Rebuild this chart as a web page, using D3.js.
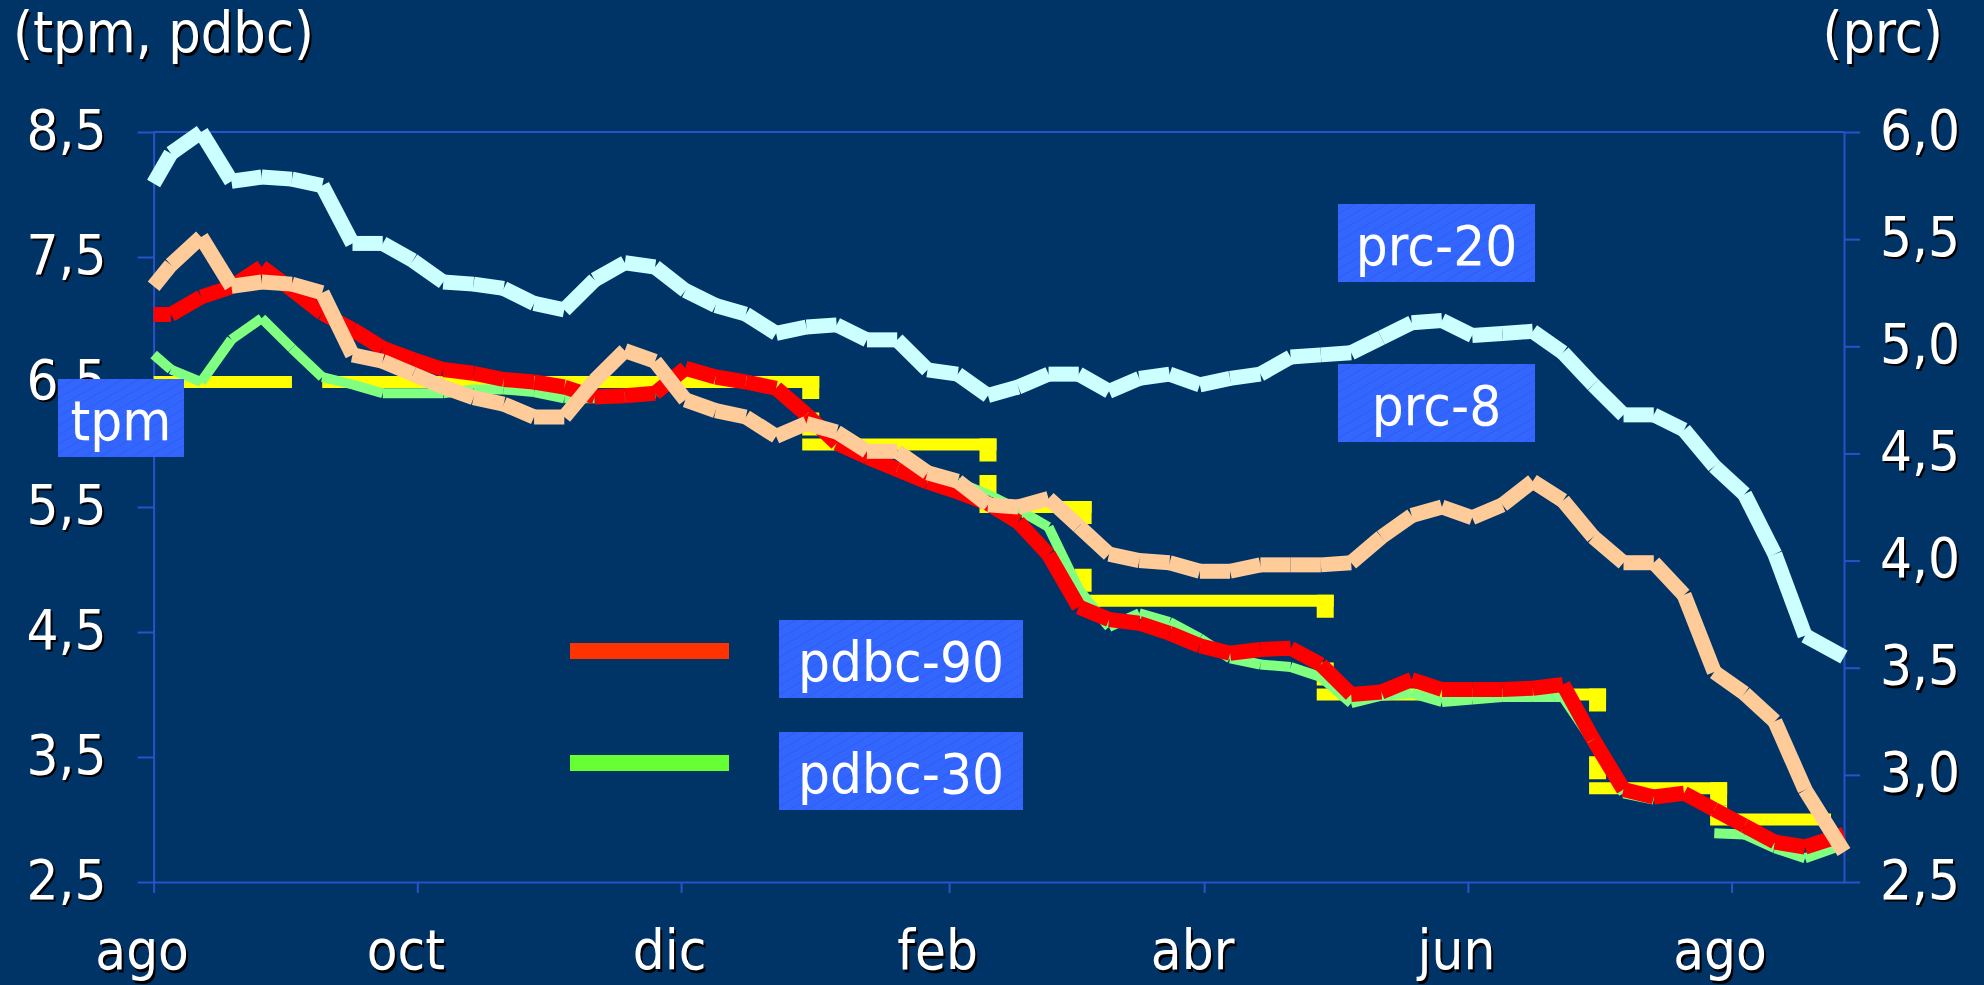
<!DOCTYPE html>
<html>
<head>
<meta charset="utf-8">
<title>tpm, pdbc y prc</title>
<script src="https://cdn.jsdelivr.net/npm/d3@7"></script>
<style>
  body { margin: 0; background: #003366; }
  svg text { font-family: "DejaVu Sans Condensed", "DejaVu Sans", sans-serif; font-stretch: condensed; }
</style>
</head>
<body>
<div id="chart"></div>
<script>
// weekly observation dates
const dates = [
  '2001-08-01','2001-08-05','2001-08-12','2001-08-19','2001-08-26','2001-09-02','2001-09-09',
  '2001-09-16','2001-09-23','2001-09-30','2001-10-07','2001-10-14','2001-10-21','2001-10-28',
  '2001-11-04','2001-11-11','2001-11-18','2001-11-25','2001-12-02','2001-12-09','2001-12-16',
  '2001-12-23','2001-12-30','2002-01-06','2002-01-13','2002-01-20','2002-01-27','2002-02-03',
  '2002-02-10','2002-02-17','2002-02-24','2002-03-03','2002-03-10','2002-03-17','2002-03-24',
  '2002-03-31','2002-04-07','2002-04-14','2002-04-21','2002-04-28','2002-05-05','2002-05-12',
  '2002-05-19','2002-05-26','2002-06-02','2002-06-09','2002-06-16','2002-06-23','2002-06-30',
  '2002-07-07','2002-07-14','2002-07-21','2002-07-28','2002-08-04','2002-08-11','2002-08-18',
  '2002-08-27'
];

// right axis (prc)
const prc20 = [5.76, 5.90, 6.00, 5.77, 5.79, 5.78, 5.75, 5.48, 5.48, 5.40, 5.30, 5.29, 5.27, 5.20,
  5.17, 5.31, 5.39, 5.37, 5.26, 5.19, 5.15, 5.06, 5.09, 5.10, 5.03, 5.03, 4.89, 4.87, 4.77, 4.81,
  4.87, 4.87, 4.79, 4.85, 4.87, 4.82, 4.85, 4.87, 4.95, 4.96, 4.97, 5.04, 5.11, 5.12, 5.05, 5.06,
  5.07, 4.97, 4.82, 4.68, 4.68, 4.61, 4.44, 4.31, 4.03, 3.65, 3.55];
const prc8 = [5.28, 5.38, 5.51, 5.28, 5.30, 5.29, 5.25, 4.96, 4.93, 4.87, 4.81, 4.76, 4.73, 4.67,
  4.67, 4.84, 4.98, 4.93, 4.75, 4.70, 4.67, 4.58, 4.64, 4.60, 4.51, 4.51, 4.41, 4.37, 4.26, 4.25,
  4.29, 4.16, 4.03, 4.00, 3.99, 3.95, 3.95, 3.98, 3.98, 3.98, 3.99, 4.11, 4.21, 4.25, 4.20, 4.26,
  4.37, 4.28, 4.11, 3.99, 3.99, 3.84, 3.48, 3.38, 3.25, 2.93, 2.64];

// left axis (tpm, pdbc)
const pdbc90 = [7.04, 7.04, 7.18, 7.26, 7.42, 7.24, 7.05, 6.92, 6.77, 6.68, 6.60, 6.57, 6.52, 6.50,
  6.46, 6.38, 6.39, 6.41, 6.61, 6.54, 6.50, 6.45, 6.24, 6.01, 5.90, 5.80, 5.70, 5.62, 5.53, 5.38,
  5.12, 4.70, 4.60, 4.57, 4.49, 4.39, 4.33, 4.36, 4.37, 4.24, 4.00, 4.02, 4.12, 4.04, 4.04, 4.04,
  4.05, 4.08, 3.64, 3.24, 3.18, 3.21, 3.08, 2.95, 2.82, 2.78, 2.88];
const pdbc30 = [6.72, 6.60, 6.50, 6.84, 7.01, 6.77, 6.54, 6.48, 6.41, 6.41, 6.41, 6.44, 6.44, 6.42,
  6.37, 6.37, 6.38, 6.41, 6.60, 6.54, 6.50, 6.46, 6.22, 6.03, 5.91, 5.82, 5.73, 5.70, 5.60, 5.48,
  5.34, 4.84, 4.54, 4.65, 4.58, 4.45, 4.29, 4.24, 4.22, 4.14, 3.93, 3.99, 4.01, 3.94, 3.96, 3.98,
  3.98, 3.98, 3.62, 3.21, 3.16, null, 2.89, 2.88, 2.77, 2.69, 2.80];

// tpm levels: each one holds from its start to its end date
const tpmStart = ['2001-08-01', '2001-09-09', '2001-12-31', '2002-02-10', '2002-03-04', '2002-04-29', '2002-07-01', '2002-07-29'];
const tpmEnd = ['2001-09-02', '2001-12-31', '2002-02-10', '2002-03-04', '2002-04-29', '2002-07-01', '2002-07-29', '2002-08-24'];
const tpmLevel = [6.5, 6.5, 6.0, 5.5, 4.75, 4.0, 3.25, 3.0];

const xTickDates = ['2001-08-01', '2001-10-01', '2001-12-01', '2002-02-01', '2002-04-01', '2002-06-01', '2002-08-01'];
const xTickLabels = ['ago', 'oct', 'dic', 'feb', 'abr', 'jun', 'ago'];
const leftTicks = [2.5, 3.5, 4.5, 5.5, 6.5, 7.5, 8.5];
const rightTicks = [2.5, 3.0, 3.5, 4.0, 4.5, 5.0, 5.5, 6.0];

const width = 1984;
const height = 985;
const plot = { left: 153.6, right: 1844, top: 132, bottom: 882 };
const axisColor = '#2a52c8';
const fontSize = 56;

const parse = d3.timeParse('%Y-%m-%d');
const fmt = d3.formatLocale({ decimal: ',', thousands: '.', grouping: [3], currency: ['', ''] }).format('.1f');

const x = d3.scaleTime()
  .domain([parse(dates[0]), parse(dates[dates.length - 1])])
  .range([plot.left, plot.right]);
const yL = d3.scaleLinear().domain([2.5, 8.5]).range([plot.bottom, plot.top]);
const yR = d3.scaleLinear().domain([2.5, 6.0]).range([plot.bottom, plot.top]);

const svg = d3.select('#chart')
  .append('svg')
  .attr('width', width)
  .attr('height', height)
  .style('display', 'block');

svg.append('rect')
  .attr('width', width)
  .attr('height', height)
  .attr('fill', '#003366');

// hatch used in the label boxes
const pattern = svg.append('defs').append('pattern')
  .attr('id', 'hatch')
  .attr('patternUnits', 'userSpaceOnUse')
  .attr('width', 8)
  .attr('height', 8)
  .attr('patternTransform', 'rotate(-30)');
pattern.append('rect').attr('width', 8).attr('height', 8).attr('fill', '#3366ff');
pattern.append('line').attr('x1', 0).attr('y1', 0).attr('x2', 8).attr('y2', 0)
  .attr('stroke', '#2f5ae6').attr('stroke-width', 1.5);

// white text with dark drop shadow
function shadowText(sel) {
  sel.each(function () {
    const clone = this.cloneNode(true);
    this.parentNode.insertBefore(clone, this);
    d3.select(clone).attr('fill', '#000').attr('transform', 'translate(2,2.5)');
  });
}

function styleAxis(g) {
  g.select('.domain').attr('stroke', axisColor).attr('stroke-width', 2);
  g.selectAll('.tick line').attr('stroke', axisColor).attr('stroke-width', 2);
  g.selectAll('.tick text')
    .attr('fill', '#fff')
    .style('font-size', fontSize + 'px');
  g.attr('font-family', null).attr('font-size', null);
}

// top border of the plot area
svg.append('line')
  .attr('x1', plot.left).attr('x2', plot.right)
  .attr('y1', plot.top).attr('y2', plot.top)
  .attr('stroke', axisColor).attr('stroke-width', 2);

const xAxis = svg.append('g')
  .attr('transform', `translate(0,${plot.bottom})`)
  .call(d3.axisBottom(x)
    .tickValues(xTickDates.map(parse))
    .tickFormat((d, i) => xTickLabels[i])
    .tickSize(11)
    .tickSizeOuter(0));
styleAxis(xAxis);
xAxis.selectAll('.tick text').attr('y', 87).attr('dy', 0).attr('dx', -12);

const leftAxis = svg.append('g')
  .attr('transform', `translate(${plot.left},0)`)
  .call(d3.axisLeft(yL).tickValues(leftTicks).tickFormat(fmt).tickSize(16).tickSizeOuter(0).tickPadding(31));
styleAxis(leftAxis);
leftAxis.selectAll('.tick text').attr('dy', 16);

const rightAxis = svg.append('g')
  .attr('transform', `translate(${plot.right},0)`)
  .call(d3.axisRight(yR).tickValues(rightTicks).tickFormat(fmt).tickSize(16).tickSizeOuter(0).tickPadding(20));
styleAxis(rightAxis);
rightAxis.selectAll('.tick text').attr('dy', 16);

shadowText(svg.selectAll('.tick text'));

// series
const lines = svg.append('g');

// tpm: flat bars with short broken drops between levels
const tpm = tpmLevel.map((v, i) => ({ start: parse(tpmStart[i]), end: parse(tpmEnd[i]), v }));
const bar = 12, drop = 17, dash = 23;
const tpmG = lines.append('g').attr('fill', '#ffff00');
tpm.forEach((s, i) => {
  const prev = tpm[i - 1], next = tpm[i + 1];
  const joinsPrev = prev && +prev.end === +s.start;
  const joinsNext = next && +next.start === +s.end;
  const x0 = x(s.start) - (joinsPrev ? drop / 2 : 0);
  const x1 = x(s.end) + (joinsNext ? drop / 2 : 0);
  tpmG.append('rect')
    .attr('x', x0).attr('y', yL(s.v) - bar / 2)
    .attr('width', x1 - x0).attr('height', bar);
  if (joinsNext) {
    const cx = x(s.end);
    const top = yL(s.v) - bar / 2;
    const lowTop = yL(next.v) - bar / 2;
    tpmG.append('rect')
      .attr('x', cx - drop / 2).attr('y', top)
      .attr('width', drop).attr('height', Math.min(dash, lowTop - top));
    const upTop = Math.max(top + dash, lowTop - 3 - dash);
    if (lowTop - 3 > upTop) {
      tpmG.append('rect')
        .attr('x', cx - drop / 2).attr('y', upTop)
        .attr('width', drop).attr('height', lowTop - 3 - upTop);
    }
  }
});

// each weekly segment drawn on its own, as the original does
function drawSeries(values, yScale, color, strokeWidth) {
  const pts = dates.map((d, i) => ({ date: parse(d), v: values[i] }));
  const segs = d3.pairs(pts).filter(([a, b]) => a.v != null && b.v != null);
  const line = d3.line().x(p => x(p.date)).y(p => yScale(p.v));
  lines.append('g')
    .selectAll('path')
    .data(segs)
    .join('path')
    .attr('d', line)
    .attr('fill', 'none')
    .attr('stroke', color)
    .attr('stroke-width', strokeWidth)
    .attr('stroke-linecap', 'butt');
}

drawSeries(pdbc30, yL, '#80ff80', 10);
drawSeries(pdbc90, yL, '#ff0000', 15);
drawSeries(prc8, yR, '#ffcc99', 15);
drawSeries(prc20, yR, '#ccffff', 15);

// axis titles
const titles = svg.append('g')
  .style('font-size', '57px')
  .attr('fill', '#fff');
titles.append('text').attr('x', 13).attr('y', 52).text('(tpm, pdbc)');
titles.append('text').attr('x', 1943).attr('y', 52).attr('text-anchor', 'end').text('(prc)');
shadowText(titles.selectAll('text'));

// legend samples
const legendLines = [
  { color: '#ff3300', y: 651 },
  { color: '#66ff33', y: 763 }
];
svg.append('g')
  .selectAll('line')
  .data(legendLines)
  .join('line')
  .attr('x1', 570).attr('x2', 729)
  .attr('y1', d => d.y).attr('y2', d => d.y)
  .attr('stroke', d => d.color)
  .attr('stroke-width', 16);

// label boxes
const labels = [
  { text: 'tpm', x: 58, y: 379, w: 126 },
  { text: 'prc-20', x: 1338, y: 204, w: 197 },
  { text: 'prc-8', x: 1338, y: 364, w: 197 },
  { text: 'pdbc-90', x: 779, y: 620, w: 244 },
  { text: 'pdbc-30', x: 779, y: 732, w: 244 }
];
const boxes = svg.append('g')
  .selectAll('g')
  .data(labels)
  .join('g')
  .attr('transform', d => `translate(${d.x},${d.y})`);
boxes.append('rect')
  .attr('width', d => d.w)
  .attr('height', 78)
  .attr('fill', 'url(#hatch)');
boxes.append('text')
  .attr('x', d => d.w / 2)
  .attr('y', 61)
  .attr('text-anchor', 'middle')
  .attr('fill', '#fff')
  .style('font-size', fontSize + 'px')
  .text(d => d.text);
</script>
</body>
</html>
